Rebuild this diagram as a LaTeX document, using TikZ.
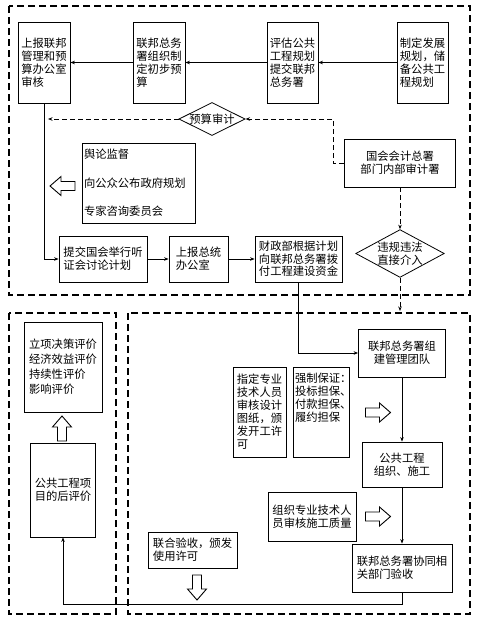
\documentclass[tikz,border=0pt]{standalone}
\usepackage{fontspec}
\newfontfamily\cjk{Noto Sans CJK SC}
\usetikzlibrary{positioning,arrows.meta,shapes.geometric}

\begin{document}
\begin{tikzpicture}[x=1pt, y=-1pt, >={Stealth[length=4.5pt,width=3.5pt]}, line width=0.8pt,
    every node/.style={font=\cjk\fontsize{11.3}{13}\selectfont},
    box/.style={draw, rectangle, inner sep=2pt, align=left},
    cbox/.style={draw, rectangle, inner sep=2pt, align=center},
    choice/.style={draw, diamond, aspect=#1, inner sep=0pt, align=center},
    frame/.style={line width=1.1pt, dash pattern=on 7pt off 4pt},
    dline/.style={dash pattern=on 5pt off 3pt},
    hollow/.pic={\draw[line width=0.9pt] (-12.5,-4.5) -- (1.5,-4.5) -- (1.5,-9.5) -- (12.5,0)
        -- (1.5,9.5) -- (1.5,4.5) -- (-12.5,4.5) -- cycle;}]
    \useasboundingbox (0,0) rectangle (478,619);

    \draw[frame] (9,6) rectangle (470,295);
    \draw[frame] (9,313) rectangle (116,614);
    \draw[frame] (128,313) rectangle (470,614);

    \node[box, minimum width=52pt, minimum height=81pt] (t1) at (44,62.5) {上报联邦\\管理和预\\算办公室\\审核};
    \node[box, minimum width=52pt, minimum height=81pt] (t2) at (159,62.5) {联邦总务\\署组织制\\定初步预\\算};
    \node[box, minimum width=51pt, minimum height=81pt] (t3) at (292.5,62.5) {评估公共\\工程规划\\提交联邦\\总务署};
    \node[box, minimum width=51pt, minimum height=81pt] (t4) at (422.5,62.5) {制定发展\\规划，储\\备公共工\\程规划};

    \node[choice=2] (a1) at (212,119) {预算审计};
    \node[cbox, minimum width=111pt, minimum height=48pt] (g1) at (400,163) {国会会计总署\\部门内部审计署};
    \node[choice=1.85] (a2) at (400,253.5) {违规违法\\直接介入};
    \coordinate (k1) at (48,119);
    \coordinate (k2) at (333,119);
    \coordinate (k3) at (400,311);

    \node[box, text width=109pt, minimum height=80pt] (m1) at (138.5,183)
        {舆论监督\\[15.5pt]向公众公布政府规划\\[15.5pt]专家咨询委员会};
    \pic[rotate=180] (h1) at (62.5,186) {hollow};

    \node[box, minimum width=88pt, minimum height=46pt] (s1) at (103,259) {提交国会举行听\\证会讨论计划};
    \node[box, minimum width=59pt, minimum height=46pt] (s2) at (198.5,259) {上报总统\\办公室};
    \node[box, minimum width=87pt, minimum height=46pt, font=\cjk\fontsize{11.3}{12.5}\selectfont] (s3) at (298.5,259)
        {财政部根据计划\\向联邦总务署拨\\付工程建设资金};

    \node[cbox, minimum width=87pt, minimum height=48pt] (r1) at (402,353) {联邦总务署组\\建管理团队};
    \node[box, minimum width=53pt, minimum height=90pt] (r2) at (259.5,412) {指定专业\\技术人员\\审核设计\\图纸，颁\\发开工许\\可};
    \node[draw, inner sep=2pt] (r3) at (321,412)
        {\parbox[c][86pt][t]{52pt}{\vspace*{4pt}强制保证：\\投标担保、\\付款担保、\\履约担保}};
    \pic (h2) at (378,412.5) {hollow};
    \node[cbox, minimum width=80pt, minimum height=45pt] (r4) at (402,464.5) {公共工程\\组织、施工};
    \node[box, minimum width=88pt, minimum height=49pt] (r5) at (312,516.5) {组织专业技术人\\员审核施工质量};
    \pic (h3) at (378,516.5) {hollow};
    \node[box, minimum width=100pt, minimum height=48pt] (r6) at (402,568) {联邦总务署协同相\\关部门验收};
    \node[box, minimum width=89pt, minimum height=36pt] (r7) at (192.5,550) {联合验收，颁发\\使用许可};
    \pic[rotate=270] (h4) at (197,587.5) {hollow};

    \node[box, minimum width=78pt, minimum height=90pt, font=\cjk\fontsize{11.3}{15}\selectfont] (e1) at (63,367)
        {立项决策评价\\经济效益评价\\持续性评价\\影响评价};
    \pic[rotate=90] (h5) at (62,428.5) {hollow};
    \node[cbox, minimum width=65pt, minimum height=94pt] (e2) at (63,490) {公共工程项\\目的后评价};

    \draw[->] (t4) edge (t3)
              (t3) edge (t2)
              (t2) edge (t1)
    ;
    \draw[->] (t1.south) |- (s1.west);
    \draw[->] (s1) edge (s2)
              (s2) edge (s3)
    ;
    \draw[->] (s3.south) |- (r1.west);
    \draw[->] (r1) edge (r4)
              (r4) edge (r6)
    ;
    \draw[->] (r6.south) -- ++(0,12) -| (e2.south);

    \draw[dline, ->] (a1.west) -- (k1);
    \draw[dline, ->] (g1.west) -| (k2) -- (a1.east);
    \draw[dline, ->] (g1) -- (a2);
    \draw[dline, ->] (a2) -- (k3);
\end{tikzpicture}
\end{document}
